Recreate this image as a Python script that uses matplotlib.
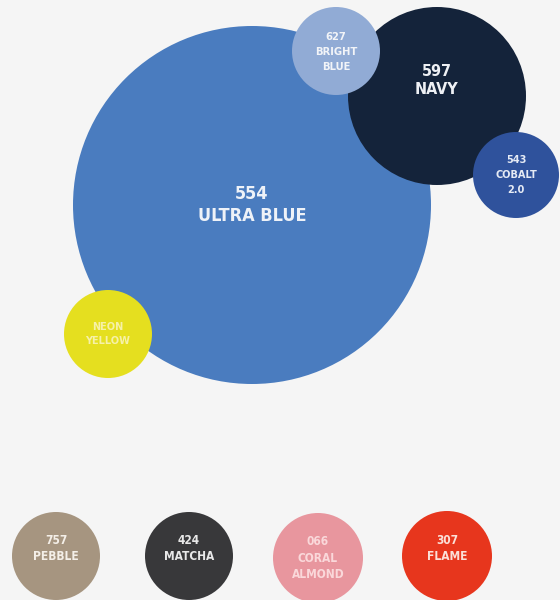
import matplotlib
matplotlib.use("Agg")
import matplotlib.pyplot as plt
from matplotlib.patches import Circle

# data (image pixel coordinates; y downward)
codes = ["554", "597", "627", "543", "", "757", "424", "066", "307"]
names = ["ULTRA BLUE", "NAVY", "BRIGHT\nBLUE", "COBALT\n2.0", "NEON\nYELLOW",
         "PEBBLE", "MATCHA", "CORAL\nALMOND", "FLAME"]
cx = [252, 437, 336, 516, 108, 56, 189, 318, 447]
cy = [205, 96, 51, 175, 334, 556, 556, 558, 556]
radius = [179, 89, 44, 43, 44, 44, 44, 45, 45]
fills = ["#4a7cbf", "#14233a", "#91abd5", "#2f529c", "#e5df1f",
         "#a69580", "#38383a", "#e8969e", "#e7361d"]
text_colors = ["#eef2f8", "#eef0f4", "#f2f4f8", "#e6ebf5", "#f6f1a8",
               "#f4efe8", "#e8e8e8", "#fad8da", "#fbe0d8"]
font_sizes = [13, 11.5, 8, 7.8, 7.8, 8.6, 8.6, 8.6, 8.6]
label_dy = [0, -16, 1, 0, 0, -8, -8, 0, -8]
line_sp = [1.25, 1.25, 1.65, 1.65, 1.5, 1.3, 1.3, 1.35, 1.3]

fig = plt.figure(figsize=(5.6, 6.0), dpi=100)
fig.patch.set_facecolor("#f5f5f5")
ax = fig.add_axes([0, 0, 1, 1])
ax.set_facecolor("#f5f5f5")
ax.set_xlim(0, 560)
ax.set_ylim(600, 0)
ax.set_aspect("equal")
ax.axis("off")

for i in range(len(names)):
    ax.add_patch(Circle((cx[i], cy[i]), radius[i], facecolor=fills[i],
                        edgecolor="none", zorder=i + 1))
    label = (codes[i] + "\n" + names[i]) if codes[i] else names[i]
    ax.text(cx[i], cy[i] + label_dy[i], label, ha="center", va="center",
            color=text_colors[i], fontsize=font_sizes[i], fontweight="bold",
            family="DejaVu Sans", fontstretch="condensed",
            linespacing=line_sp[i], zorder=20)

fig.savefig("out.png", dpi=100, facecolor=fig.get_facecolor())
